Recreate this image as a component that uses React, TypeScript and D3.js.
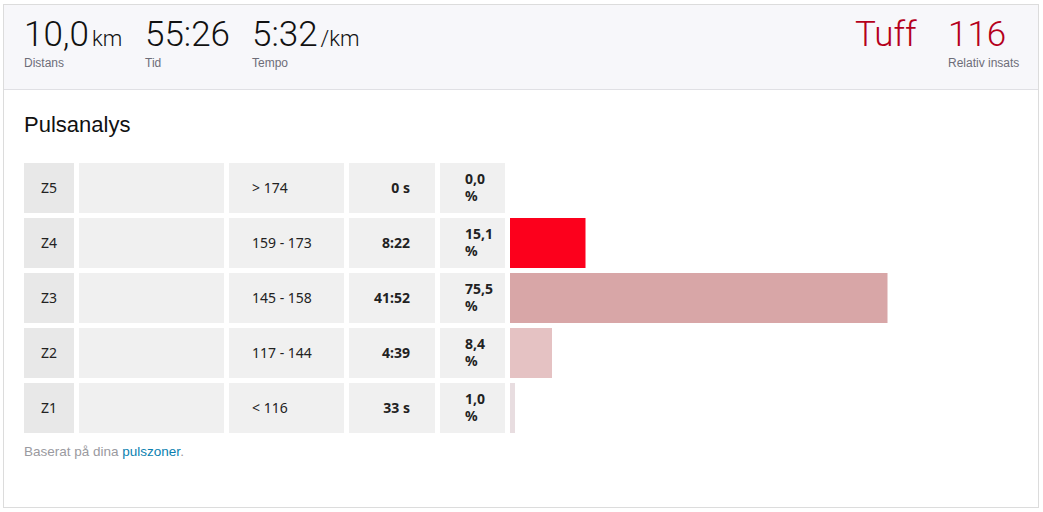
import React from "react";
import * as d3 from "d3";

const zones = ["Z5", "Z4", "Z3", "Z2", "Z1"];
const ranges = ["> 174", "159 - 173", "145 - 158", "117 - 144", "< 116"];
const times = ["0 s", "8:22", "41:52", "4:39", "33 s"];
const percents = [0.0, 15.1, 75.5, 8.4, 1.0];
const barColors = ["#f0dfe2", "#fc001c", "#d8a6a7", "#e5c2c3", "#e8dde0"];

const stats = [
  { value: "10,0", unit: "km", label: "Distans" },
  { value: "55:26", unit: "", label: "Tid" },
  { value: "5:32", unit: "/km", label: "Tempo" },
];
const statX = [24, 145, 252];

const W = 1043;
const H = 512;

export default function App() {
  const y = d3.scaleBand<string>().domain(zones).range([163, 433]).paddingInner(5 / 55).paddingOuter(0);
  const x = d3.scaleLinear().domain([0, 100]).range([510, 1010]);
  const bw = y.bandwidth();
  const cols = [
    { x0: 24, x1: 74, fill: "#e8e8e8" },
    { x0: 79, x1: 224, fill: "#f0f0f0" },
    { x0: 229, x1: 344, fill: "#f0f0f0" },
    { x0: 349, x1: 435, fill: "#f0f0f0" },
    { x0: 440, x1: 505, fill: "#f0f0f0" },
  ];
  const fmt = (v: number) => v.toFixed(1).replace(".", ",");
  const big = "Roboto, 'Noto Sans', sans-serif";
  const sans = "'Liberation Sans', Arial, sans-serif";
  const cell = "'Noto Sans', sans-serif";
  return (
    <svg width={W} height={H} style={{ position: "absolute", left: 0, top: 0, display: "block" }}>
      <rect x={0} y={0} width={W} height={H} fill="#fff" />
      <rect x={3.5} y={4.5} width={1035} height={503} fill="#fff" stroke="#dcdcdc" />
      <rect x={4} y={5} width={1034} height={84} fill="#f7f7fa" />
      <line x1={4} x2={1038} y1={89.5} y2={89.5} stroke="#e0e0e4" />
      {stats.map((s, i) => (
        <g key={s.label}>
          <text x={statX[i]} y={46} fontFamily={big} fontSize={35} fill="#111" fontWeight={300}>
            {s.value}
            {s.unit && (
              <tspan fontSize={22} dx={3}>
                {s.unit}
              </tspan>
            )}
          </text>
          <text x={statX[i]} y={67} fontFamily={sans} fontSize={12} fill="#6d6d78">
            {s.label}
          </text>
        </g>
      ))}
      <text x={855} y={46} fontFamily={big} fontSize={35} fill="#b5001b" fontWeight={300}>
        Tuff
      </text>
      <text x={948} y={46} fontFamily={big} fontSize={35} fill="#b5001b" fontWeight={300}>
        116
      </text>
      <text x={948} y={67} fontFamily={sans} fontSize={12} fill="#6d6d78">
        Relativ insats
      </text>
      <text x={24} y={132} fontFamily={sans} fontSize={22} fill="#111">
        Pulsanalys
      </text>
      {zones.map((z, i) => {
        const y0 = y(z)!;
        const cy = y0 + bw / 2;
        return (
          <g key={z}>
            {cols.map((c, j) => (
              <rect key={j} x={c.x0} y={y0} width={c.x1 - c.x0} height={bw} fill={c.fill} />
            ))}
            <text x={49} y={cy + 5} textAnchor="middle" fontFamily={cell} fontSize={14} fill="#222">
              {z}
            </text>
            <text x={252} y={cy + 5} fontFamily={cell} fontSize={14} fill="#222">
              {ranges[i]}
            </text>
            <text x={410} y={cy + 5} textAnchor="end" fontFamily={cell} fontSize={14} fontWeight={700} fill="#222">
              {times[i]}
            </text>
            <text x={465} y={cy - 4} fontFamily={cell} fontSize={14} fontWeight={700} fill="#222">
              {fmt(percents[i])}
            </text>
            <text x={465} y={cy + 13} fontFamily={cell} fontSize={14} fontWeight={700} fill="#222">
              %
            </text>
            {percents[i] > 0 && (
              <rect x={x(0)} y={y0} width={x(percents[i]) - x(0)} height={bw} fill={barColors[i]} />
            )}
          </g>
        );
      })}
      <text x={24} y={456} fontFamily={sans} fontSize={13.5} fill="#9a9aa0">
        Baserat på dina <tspan fill="#0a7fb0">pulszoner</tspan>.
      </text>
    </svg>
  );
}
